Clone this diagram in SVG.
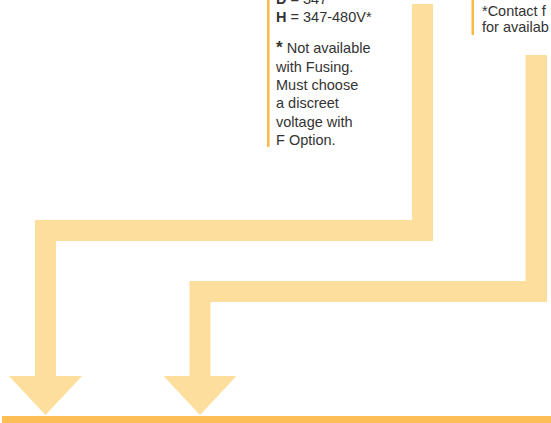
<svg xmlns="http://www.w3.org/2000/svg" width="551" height="423" viewBox="0 0 551 423">
<style>
.t{font-family:"Liberation Sans","Open Sans",Arial,sans-serif;font-size:14.5px;fill:#333}
.b{font-weight:bold}
.arrow{fill:#FDDE9C}
.rule{fill:#FDB945}
</style>
<rect width="551" height="423" fill="#fff"/>
<g id="connectors">
<path class="arrow" d="M412,4 H433 V241 H56 V376 H82 L45.5,415 L9,376 H35 V220 H412 Z"/>
<path class="arrow" d="M525.5,55 H547 V302 H210.5 V376 H236.5 L200,415 L163.5,376 H189.5 V281 H525.5 Z"/>
</g>
<g id="voltage-note">
<rect class="rule" x="267" y="0" width="2.5" height="147"/>
<text class="t" x="276" y="3.5"><tspan class="b">D</tspan> = 347</text>
<text class="t" x="276" y="21.5"><tspan class="b">H</tspan> = 347-480V*</text>
<text class="t" x="276" y="53"><tspan class="b" font-size="17">*</tspan> Not available</text>
<text class="t" x="276" y="71.5">with Fusing.</text>
<text class="t" x="276" y="90">Must choose</text>
<text class="t" x="276" y="108">a discreet</text>
<text class="t" x="276" y="126.5">voltage with</text>
<text class="t" x="276" y="145">F Option.</text>
</g>
<g id="contact-note">
<rect class="rule" x="471.5" y="0" width="2.5" height="35"/>
<text class="t" x="482" y="15.5">*Contact f</text>
<text class="t" x="482" y="32">for availab</text>
</g>
<g id="base-bar">
<rect x="2" y="416" width="549" height="7" fill="#FDBE57"/>
</g>
</svg>
